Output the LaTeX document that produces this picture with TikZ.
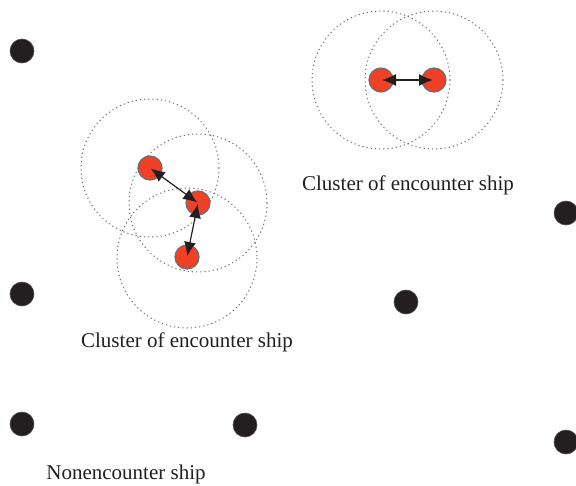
\documentclass[tikz,border=0pt]{standalone}
\usepackage{fontspec}
\setmainfont{Liberation Serif}
\usetikzlibrary{arrows.meta}
\definecolor{shipred}{HTML}{EE4126}
\definecolor{shipblack}{HTML}{231F20}
\definecolor{ringgray}{HTML}{6D6E71}
\tikzset{
  blackship/.style={circle,fill=shipblack,draw=shipblack!80,line width=0.6pt,minimum size=24pt,inner sep=0pt},
  redship/.style={circle,fill=shipred,draw=ringgray,line width=1.2pt,minimum size=24pt,inner sep=0pt},
  ring/.style={draw=ringgray,line width=1pt,dash pattern=on 1.2pt off 3pt},
  link/.style={{Latex[length=14pt,width=12pt]}-{Latex[length=14pt,width=12pt]},line width=1.2pt,draw=shipblack,shorten >=1pt,shorten <=1pt},
  lbl/.style={font=\fontsize{21}{24}\selectfont,text=shipblack,inner sep=0pt}
}
\begin{document}
\begin{tikzpicture}[x=1pt,y=-1pt]
\useasboundingbox (0,0) rectangle (576,485);
% rings
\draw[ring] (150,168) circle (69);
\draw[ring] (198,203) circle (69);
\draw[ring] (187,258) circle (70);
\draw[ring] (381,80) circle (69);
\draw[ring] (434,80) circle (69);
% black ships
\node[blackship] (b1) at (22,51) {};
\node[blackship] (b2) at (566,213) {};
\node[blackship] (b3) at (22,294) {};
\node[blackship] (b4) at (406,302) {};
\node[blackship] (b5) at (22,424) {};
\node[blackship] (b6) at (245,425) {};
\node[blackship] (b7) at (566,442) {};
% red ships
\node[redship] (r1) at (150,168) {};
\node[redship] (r2) at (198,203) {};
\node[redship] (r3) at (187,257) {};
\node[redship] (r4) at (381,80) {};
\node[redship] (r5) at (434,80) {};
% links
\draw[link] (r1.center) -- (r2.center);
\draw[link] (r2.center) -- (r3.center);
\draw[link] (r4.center) -- (r5.center);
% labels
\node[lbl] (l1) at (408,185) {Cluster of encounter ship};
\node[lbl] (l2) at (187,342) {Cluster of encounter ship};
\node[lbl] (l3) at (126,474) {Nonencounter ship};
\end{tikzpicture}
\end{document}
